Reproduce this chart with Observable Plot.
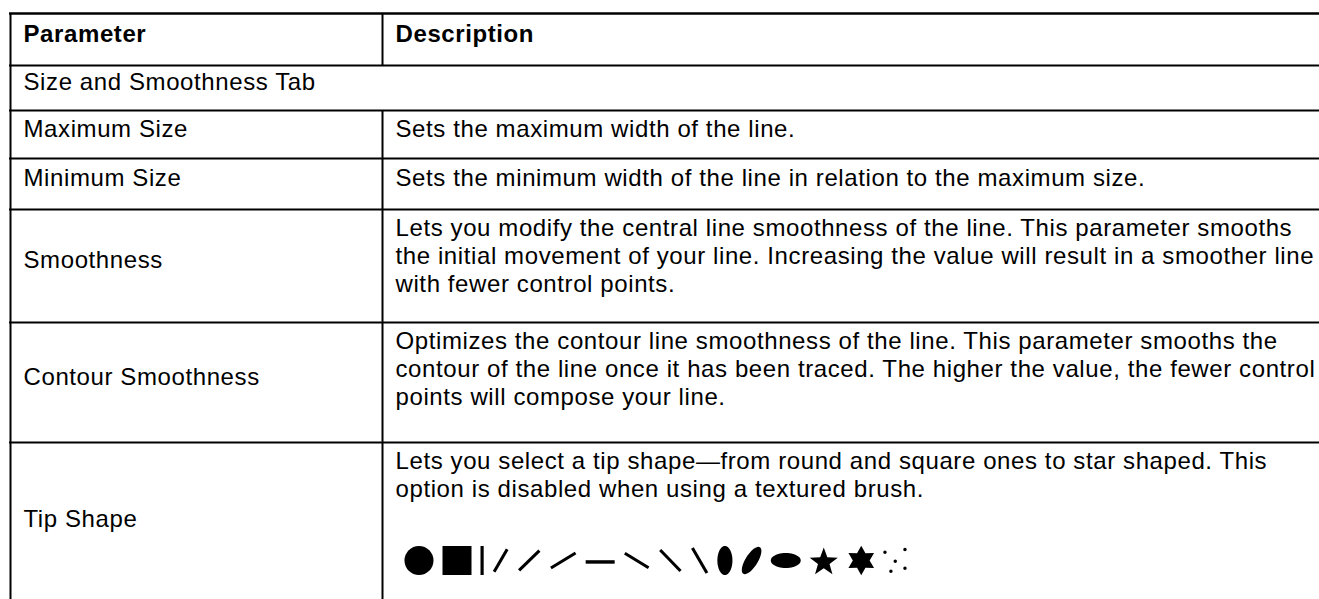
<!DOCTYPE html>
<html>
<head>
<meta charset="utf-8">
<script src="https://cdn.jsdelivr.net/npm/d3@7"></script>
<script src="https://cdn.jsdelivr.net/npm/@observablehq/plot@0.6"></script>
<style>
  html, body { margin: 0; padding: 0; background: #fff; overflow: hidden; }
  #chart svg { display: block; }
</style>
</head>
<body>
<div id="chart"></div>
<script>
// ---------------- data ----------------
const headers = ["Parameter", "Description"];
const sectionTitle = "Size and Smoothness Tab";
const parameters = ["Maximum Size", "Minimum Size", "Smoothness", "Contour Smoothness", "Tip Shape"];
const descriptions = [
  ["Sets the maximum width of the line."],
  ["Sets the minimum width of the line in relation to the maximum size."],
  ["Lets you modify the central line smoothness of the line. This parameter smooths",
   "the initial movement of your line. Increasing the value will result in a smoother line",
   "with fewer control points."],
  ["Optimizes the contour line smoothness of the line. This parameter smooths the",
   "contour of the line once it has been traced. The higher the value, the fewer control",
   "points will compose your line."],
  ["Lets you select a tip shape\u2014from round and square ones to star shaped. This",
   "option is disabled when using a textured brush."]
];
const tipShapes = ["circle", "square", "bar", "slash75", "slash45", "slash25", "dash",
  "backslash25", "backslash45", "backslash75", "ellipseV", "ellipseTilt", "ellipseH",
  "star5", "star6", "scatter"];

// ---------------- layout / style ----------------
const W = 1319, H = 599;
const FONT = "'Liberation Sans', Arial, Helvetica, sans-serif";
const FONT_SIZE = 24;
const TABLE_LEFT = 10, COL_SPLIT = 382, TABLE_TOP = 13, PAD_X = 13;
const ROW_HEIGHTS = [52, 45, 48, 51, 113, 120, 165]; // header, section, then one per parameter
const FIRST_BASELINE = 26, LINE_STEP = 28.3;
const ICON_R = 14.5, ICON_GAP = 9, ICON_X0 = 404, ICON_ROW_OFFSET = 118;

const rowTops = [];
{ let t = TABLE_TOP; for (const h of ROW_HEIGHTS) { rowTops.push(t); t += h; } rowTops.push(t); }

// text cells
const headerCells = [];
const cells = [];
const mid = (i) => rowTops[i] + ROW_HEIGHTS[i] / 2 + 2;
headerCells.push({x: TABLE_LEFT + PAD_X, y: mid(0), text: headers[0]});
headerCells.push({x: COL_SPLIT + PAD_X, y: mid(0), text: headers[1]});
cells.push({x: TABLE_LEFT + PAD_X, y: mid(1), text: sectionTitle});
parameters.forEach((p, k) => {
  const i = k + 2;
  cells.push({x: TABLE_LEFT + PAD_X, y: mid(i), text: p});
  const lines = descriptions[k];
  lines.forEach((line, j) => {
    const y = lines.length === 1 ? mid(i) : rowTops[i] + FIRST_BASELINE + j * LINE_STEP;
    cells.push({x: COL_SPLIT + PAD_X, y, text: line});
  });
});

// borders
const hLines = rowTops.slice(0, ROW_HEIGHTS.length).map((y, i) => ({y, w: i === 0 ? 2.6 : 2}));
const vLines = [
  {x: TABLE_LEFT, y1: TABLE_TOP, y2: H + 20},
  {x: COL_SPLIT, y1: rowTops[0], y2: rowTops[1]},
  {x: COL_SPLIT, y1: rowTops[2], y2: H + 20}
];

// tip shape glyphs (drawn in units of r = half the icon height)
function seg(ctx, x1, y1, x2, y2, t) {
  const dx = x2 - x1, dy = y2 - y1, L = Math.hypot(dx, dy);
  const nx = -dy / L * t / 2, ny = dx / L * t / 2;
  ctx.moveTo(x1 + nx, y1 + ny); ctx.lineTo(x2 + nx, y2 + ny);
  ctx.lineTo(x2 - nx, y2 - ny); ctx.lineTo(x1 - nx, y1 - ny); ctx.closePath();
}
function ell(ctx, a, b, rot) {
  const c = Math.cos(rot), s = Math.sin(rot), n = 48;
  for (let k = 0; k < n; ++k) {
    const t = 2 * Math.PI * k / n, ex = a * Math.cos(t), ey = b * Math.sin(t);
    const px = ex * c - ey * s, py = ex * s + ey * c;
    k ? ctx.lineTo(px, py) : ctx.moveTo(px, py);
  }
  ctx.closePath();
}
function star(ctx, n, R, ri, dyc) {
  for (let k = 0; k < 2 * n; ++k) {
    const rad = k % 2 ? ri : R, t = -Math.PI / 2 + Math.PI * k / n;
    const px = rad * Math.cos(t), py = rad * Math.sin(t) + dyc;
    k ? ctx.lineTo(px, py) : ctx.moveTo(px, py);
  }
  ctx.closePath();
}
const T = 0.21;
const SHAPE_STYLE = {
  circle:      {w: 2.0,  draw: (c, r) => { c.moveTo(r, 0); c.arc(0, 0, r, 0, 2 * Math.PI); }},
  square:      {w: 2.0,  draw: (c, r) => { c.rect(-r, -r, 2 * r, 2 * r); }},
  bar:         {w: 0.22, draw: (c, r) => { c.rect(-0.11 * r, -r, 0.22 * r, 2 * r); }},
  slash75:     {w: 1.1,  draw: (c, r) => seg(c, -0.45 * r, 0.78 * r, 0.45 * r, -0.78 * r, T * r)},
  slash45:     {w: 1.6,  draw: (c, r) => seg(c, -0.7 * r, 0.68 * r, 0.7 * r, -0.68 * r, T * r)},
  slash25:     {w: 1.85, draw: (c, r) => seg(c, -0.85 * r, 0.52 * r, 0.85 * r, -0.52 * r, T * r)},
  dash:        {w: 2.0,  draw: (c, r) => seg(c, -r, 0.1 * r, r, 0.1 * r, 0.24 * r)},
  backslash25: {w: 1.8,  draw: (c, r) => seg(c, -0.82 * r, -0.5 * r, 0.82 * r, 0.5 * r, T * r)},
  backslash45: {w: 1.6,  draw: (c, r) => seg(c, -0.7 * r, -0.72 * r, 0.7 * r, 0.72 * r, T * r)},
  backslash75: {w: 1.2,  draw: (c, r) => seg(c, -0.5 * r, -0.86 * r, 0.5 * r, 0.86 * r, T * r)},
  ellipseV:    {w: 1.04, draw: (c, r) => ell(c, 0.52 * r, r, 0)},
  ellipseTilt: {w: 1.4,  draw: (c, r) => ell(c, 0.42 * r, 1.08 * r, Math.PI * 32 / 180)},
  ellipseH:    {w: 2.07, draw: (c, r) => ell(c, 1.03 * r, 0.52 * r, 0)},
  star5:       {w: 1.93, draw: (c, r) => star(c, 5, 1.02 * r, 0.42 * r, 0.12 * r)},
  star6:       {w: 2.0,  draw: (c, r) => star(c, 6, 1.02 * r, 0.58 * r, 0)},
  scatter:     {w: 1.45, draw: (c, r) => {
    for (const [px, py] of [[-0.71, -0.57], [0.67, -0.76], [0, 0.05], [-0.3, 0.74], [0.67, 0.53]]) {
      c.moveTo(px * r + 0.12 * r, py * r); c.arc(px * r, py * r, 0.12 * r, 0, 2 * Math.PI);
    }
  }}
};
const icons = [];
{
  let x = ICON_X0;
  for (const name of tipShapes) {
    const st = SHAPE_STYLE[name], w = st.w * ICON_R;
    icons.push({name, x: x + w / 2, y: rowTops[6] + ICON_ROW_OFFSET,
      symbol: {draw(ctx, size) { st.draw(ctx, Math.sqrt(size / Math.PI)); }}});
    x += w + ICON_GAP;
  }
}

// ---------------- plot ----------------
const textOpts = {x: "x", y: "y", text: "text", textAnchor: "start", lineAnchor: "bottom",
  fontSize: FONT_SIZE, fontFamily: FONT, fill: "#000"};
const chart = Plot.plot({
  width: W, height: H,
  margin: 0,
  x: {domain: [0, W], range: [0, W], axis: null},
  y: {domain: [0, H], range: [0, H], axis: null},
  style: {fontFamily: FONT, letterSpacing: "0.6px", background: "#fff", color: "#000"},
  marks: [
    Plot.ruleY(hLines, {y: "y", x1: TABLE_LEFT - 1, x2: W + 20, stroke: "#000", strokeWidth: "w"}),
    Plot.ruleX(vLines, {x: "x", y1: "y1", y2: "y2", stroke: "#000", strokeWidth: 2}),
    Plot.text(headerCells, {...textOpts, fontWeight: "bold"}),
    Plot.text(cells, {...textOpts, fontWeight: "normal"}),
    Plot.dot(icons, {x: "x", y: "y", symbol: "symbol", r: ICON_R, fill: "#000", stroke: "none"})
  ]
});
document.getElementById("chart").appendChild(chart);
</script>
</body>
</html>
